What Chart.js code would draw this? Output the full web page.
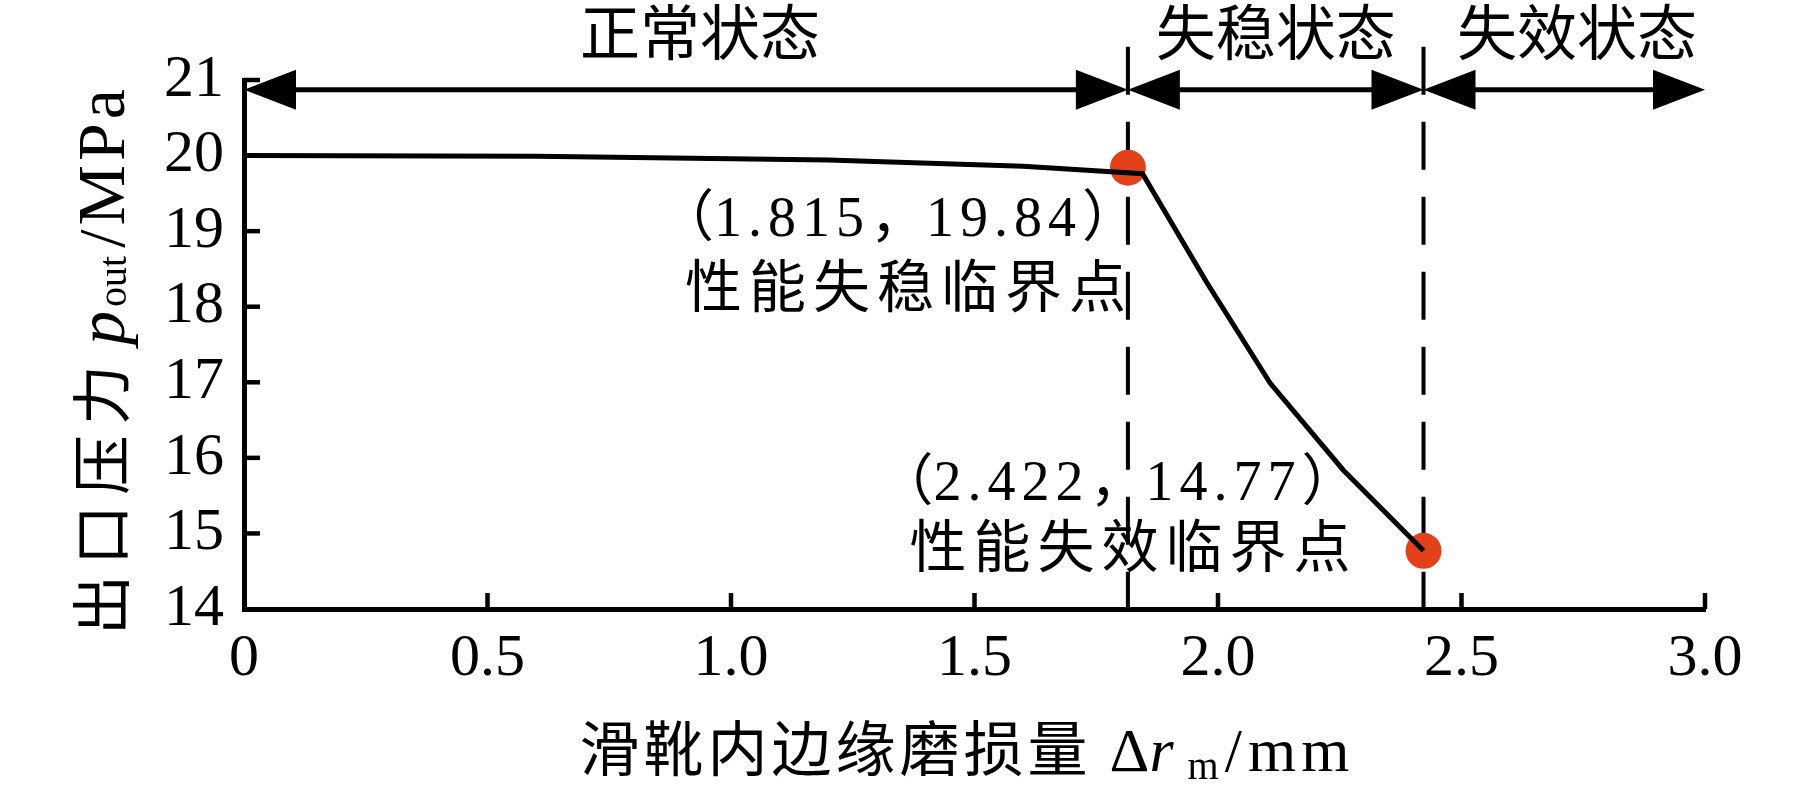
<!DOCTYPE html>
<html>
<head>
<meta charset="utf-8">
<script src="https://cdn.jsdelivr.net/npm/chart.js@4.4.1/dist/chart.umd.min.js"></script>
<style>
  html, body { margin: 0; padding: 0; background: #fff; }
  #wrap { width: 1819px; height: 786px; }
</style>
</head>
<body>
<div id="wrap"><canvas id="pumpChart" width="1819" height="786"></canvas></div>
<script>
// 出口压力随滑靴内边缘磨损量变化
const wear = [0, 0.6, 1.2, 1.6, 1.845, 1.976, 2.107, 2.257, 2.422];
const pressure = [20.00, 19.99, 19.94, 19.86, 19.76, 18.33, 16.99, 15.84, 14.77];

// 临界点
const critWear = [1.815, 2.422];
const critPressure = [19.84, 14.77];
const critName = ['性能失稳临界点', '性能失效临界点'];

// 状态区间
const stateNames = ['正常状态', '失稳状态', '失效状态'];
const stateBounds = [0, 1.815, 2.422, 3.0];

const xTickVals = [0, 0.5, 1.0, 1.5, 2.0, 2.5, 3.0];
const yTickVals = [14, 15, 16, 17, 18, 19, 20, 21];

const CJK = '"Noto Sans CJK SC"';
const SERIF = '"Liberation Serif"';

// 依次画一串不同字体的文字
function drawRuns(ctx, runs, x, y, align) {
    let total = 0;
    runs.forEach(r => {
        ctx.font = r.font;
        ctx.letterSpacing = (r.ls || 0) + 'px';
        r.w = ctx.measureText(r.t).width;
        total += r.w + (r.gap || 0);
    });
    let cx = x;
    if (align === 'center') cx = x - total / 2;
    if (align === 'right') cx = x - total;
    runs.forEach(r => {
        ctx.font = r.font;
        ctx.letterSpacing = (r.ls || 0) + 'px';
        ctx.textAlign = 'left';
        ctx.textBaseline = 'alphabetic';
        ctx.fillText(r.t, cx, y + (r.dy || 0));
        cx += r.w + (r.gap || 0);
    });
    ctx.letterSpacing = '0px';
}

// 坐标注释：全角括号和逗号用中文字体，数字用衬线体
function coordRuns(xv, yv) {
    const num = '56px ' + SERIF, cjk = '56px ' + CJK;
    return [
        {t: '（', font: cjk},
        {t: xv.toFixed(3), font: num, ls: 6},
        {t: '，', font: cjk},
        {t: yv.toFixed(2), font: num, ls: 6},
        {t: '）', font: cjk}
    ];
}

function arrowHead(ctx, tipX, y, dir) {
    const len = 52, half = 20;
    ctx.beginPath();
    ctx.moveTo(tipX, y);
    ctx.lineTo(tipX - dir * len, y - half);
    ctx.lineTo(tipX - dir * len, y + half);
    ctx.closePath();
    ctx.fill();
}

const decoPlugin = {
    id: 'deco',
    beforeDatasetsDraw(chart) {
        const {ctx, scales: {x, y}} = chart;
        ctx.save();
        ctx.strokeStyle = '#000';
        ctx.lineWidth = 4;
        ctx.setLineDash([48, 27]);
        critWear.forEach(v => {
            const px = x.getPixelForValue(v);
            ctx.beginPath();
            ctx.moveTo(px, y.getPixelForValue(21.44));
            ctx.lineTo(px, y.getPixelForValue(14));
            ctx.stroke();
        });
        ctx.restore();
    },
    afterDraw(chart) {
        const {ctx, chartArea: a, scales: {x, y}} = chart;
        ctx.save();
        ctx.strokeStyle = '#000';
        ctx.fillStyle = '#000';
        ctx.lineWidth = 4.5;

        // 向内的刻度线
        yTickVals.forEach(v => {
            if (v === 14) return;
            const py = y.getPixelForValue(v);
            ctx.beginPath();
            ctx.moveTo(a.left, py);
            ctx.lineTo(a.left + 16, py);
            ctx.stroke();
        });
        xTickVals.forEach(v => {
            if (v === 0) return;
            const px = x.getPixelForValue(v);
            ctx.beginPath();
            ctx.moveTo(px, a.bottom);
            ctx.lineTo(px, a.bottom - 16);
            ctx.stroke();
        });

        // 状态区间双向箭头
        const ay = y.getPixelForValue(20.87);
        ctx.lineWidth = 5;
        for (let i = 0; i < 3; i++) {
            const x1 = x.getPixelForValue(stateBounds[i]);
            const x2 = x.getPixelForValue(stateBounds[i + 1]);
            ctx.beginPath();
            ctx.moveTo(x1 + 20, ay);
            ctx.lineTo(x2 - 20, ay);
            ctx.stroke();
            arrowHead(ctx, x1, ay, -1);
            arrowHead(ctx, x2, ay, 1);
        }

        // 状态文字
        const labelCx = [700, x.getPixelForValue((stateBounds[1] + stateBounds[2]) / 2), 1577];
        stateNames.forEach((s, i) => {
            drawRuns(ctx, [{t: s, font: '400 60px ' + CJK}], labelCx[i], 55, 'center');
        });

        // 临界点注释
        const p1x = x.getPixelForValue(critWear[0]);
        drawRuns(ctx, coordRuns(critWear[0], critPressure[0]), p1x - 230, 236, 'center');
        drawRuns(ctx, [{t: critName[0], font: '57px ' + CJK, ls: 7}], p1x - 219, 307, 'center');
        const p2x = x.getPixelForValue(critWear[1]);
        drawRuns(ctx, coordRuns(critWear[1], critPressure[1]), p2x - 306, 500, 'center');
        drawRuns(ctx, [{t: critName[1], font: '57px ' + CJK, ls: 7}], p2x - 290, 567, 'center');

        // 横轴标题
        drawRuns(ctx, [
            {t: '滑靴内边缘磨损量', font: '60px ' + CJK, ls: 4, gap: 18},
            {t: 'Δ', font: '62px ' + SERIF},
            {t: 'r', font: 'italic 62px ' + SERIF, gap: 14},
            {t: 'm', font: '40px ' + SERIF, dy: 8, gap: 6},
            {t: '/', font: '62px ' + SERIF, gap: 6},
            {t: 'mm', font: '62px ' + SERIF, ls: 5}
        ], 967, 771, 'center');

        // 纵轴标题
        ctx.translate(124, 360);
        ctx.rotate(-Math.PI / 2);
        drawRuns(ctx, [
            {t: '出口压力', font: '60px ' + CJK, ls: 10, gap: 10},
            {t: 'p', font: 'italic 68px ' + SERIF, gap: 4},
            {t: 'out', font: '40px ' + SERIF, dy: 2, gap: 8},
            {t: '/', font: '66px ' + SERIF, gap: 4},
            {t: 'MPa', font: '68px ' + SERIF, ls: 4}
        ], 0, 0, 'center');
        ctx.restore();
    }
};

const canvas = document.getElementById('pumpChart');
new Chart(canvas.getContext('2d'), {
    data: {
        datasets: [
            {
                type: 'line',
                data: wear.map((w, i) => ({x: w, y: pressure[i]})),
                borderColor: '#000',
                borderWidth: 5,
                pointRadius: 0,
                tension: 0,
                order: 1
            },
            {
                type: 'scatter',
                data: critWear.map((w, i) => ({x: w, y: critPressure[i]})),
                backgroundColor: '#e2411a',
                borderWidth: 0,
                pointRadius: 18,
                pointHoverRadius: 18,
                order: 2
            }
        ]
    },
    options: {
        responsive: false,
        animation: false,
        devicePixelRatio: 1,
        layout: { padding: { left: 0, right: 114, top: 80, bottom: 0 } },
        plugins: {
            legend: { display: false },
            tooltip: { enabled: false }
        },
        scales: {
            x: {
                type: 'linear',
                min: 0, max: 3,
                afterFit: s => { s.height = 177; },
                afterBuildTicks: s => { s.ticks = xTickVals.map(v => ({value: v})); },
                grid: { display: false, drawTicks: false },
                border: { display: true, color: '#000', width: 5 },
                ticks: {
                    color: '#000',
                    padding: 14,
                    font: { family: '"Liberation Serif"', size: 60 },
                    callback: v => (v === 0 ? '0' : v.toFixed(1))
                }
            },
            y: {
                type: 'linear',
                min: 14, max: 21,
                afterFit: s => { s.width = 244; },
                afterBuildTicks: s => { s.ticks = yTickVals.map(v => ({value: v})); },
                grid: { display: false, drawTicks: false },
                border: { display: true, color: '#000', width: 5 },
                ticks: {
                    color: '#000',
                    padding: 20,
                    font: { family: '"Liberation Serif"', size: 60 },
                    callback: v => String(v)
                }
            }
        }
    },
    plugins: [decoPlugin]
});
</script>
</body>
</html>
